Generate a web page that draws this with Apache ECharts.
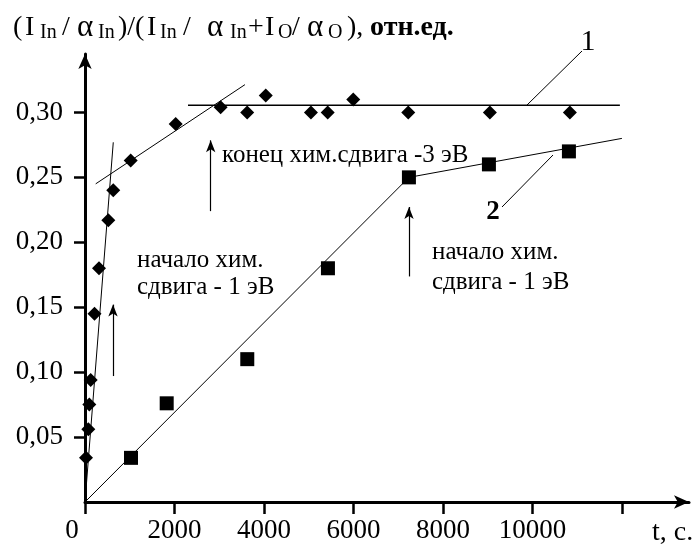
<!DOCTYPE html>
<html><head><meta charset="utf-8">
<script src="https://cdn.jsdelivr.net/npm/echarts@6.0.0/dist/echarts.min.js"></script>
<style>html,body{margin:0;padding:0;background:#fff}#c{width:697px;height:544px}</style>
</head><body><div id="c"></div>
<script>
// Series 1 (diamonds)
const diamondT = [22, 74, 96, 127, 212, 313, 521, 632, 1021, 2027, 3032, 3625, 4040, 5050, 5424, 5996, 7225, 9050, 10838];
const diamondV = [0.034, 0.056, 0.075, 0.094, 0.145, 0.180, 0.217, 0.240, 0.263, 0.291, 0.304, 0.300, 0.313, 0.300, 0.300, 0.310, 0.300, 0.300, 0.300];
// Series 2 (squares)
const squareT = [1028, 1826, 3627, 5430, 7240, 9028, 10816];
const squareV = [0.034, 0.076, 0.110, 0.180, 0.250, 0.260, 0.270];
// Fitted lines
const fit1Steep = [[0, 0], [632, 0.277]];
const fit1Slope = [[239, 0.245], [3575, 0.3214]];
const fit1Flat = [[2302, 0.3056], [11955, 0.3056]];
const fit2Rise = [[0, 0], [7240, 0.25]];
const fit2Tail = [[7240, 0.25], [12000, 0.28]];
// Arrows (t, from, to)
const arrows = [[626, 0.097, 0.152], [2810, 0.224, 0.2785], [7242, 0.1737, 0.2272]];
// Ticks
const xTicks = [0, 2000, 4000, 6000, 8000, 10000, 12000];
const xTickLabels = ['0', '2000', '4000', '6000', '8000', '10000', ''];
const yTicks = [0.05, 0.10, 0.15, 0.20, 0.25, 0.30];
const yTickLabels = ['0,05', '0,10', '0,15', '0,20', '0,25', '0,30'];
// Y-axis title pieces: [text, kind, slot width]
const titleParts = [
  ['(', 'm', 12], ['I', 'm', 15], ['In', 's', 22], ['/', 'm', 15], ['α', 'g', 21], ['In', 's', 20],
  [')/(', 'm', 29], ['I', 'm', 13], ['In', 's', 23], ['/', 'm', 24], ['α', 'g', 23], ['In', 's', 18],
  ['+', 'm', 17], ['I', 'm', 13], ['O', 's', 14], ['/', 'm', 15], ['α', 'g', 21], ['O', 's', 19],
  ['),', 'm', 23], ['отн.ед.', 'b', 90]
];

const FONT = '"Liberation Serif", "DejaVu Serif", serif';
const chart = echarts.init(document.getElementById('c'), null, {renderer: 'canvas'});

const kindStyle = {
  m: {fontSize: 28},
  s: {fontSize: 20, verticalAlign: 'bottom', padding: [10, 0, 0, 0]},
  g: {fontSize: 31},
  b: {fontSize: 28, fontWeight: 'bold'}
};
const titleRich = {};
let titleText = '';
titleParts.forEach(function (p, i) {
  const k = 'p' + i;
  titleRich[k] = Object.assign({fontFamily: FONT, fill: '#000', width: p[2], align: 'left'}, kindStyle[p[1]]);
  titleText += '{' + k + '|' + p[0] + '}';
});

function lineSeries(d, w) {
  return {type: 'line', data: d, symbol: 'none', silent: true, z: 2,
    lineStyle: {color: '#000', width: w || 1}};
}

const option = {
  animation: false,
  backgroundColor: '#fff',
  grid: {left: 85, right: 8, top: 54, bottom: 39, containLabel: false},
  xAxis: {
    type: 'value', min: 0, max: 13500, interval: 2000,
    splitLine: {show: false},
    axisLine: {show: true, lineStyle: {color: '#000', width: 3}, symbol: ['none', 'arrow'], symbolSize: [10, 15]},
    axisTick: {show: true, length: 12, lineStyle: {color: '#000', width: 2.5}, customValues: xTicks},
    axisLabel: {
      customValues: xTicks, margin: 15, color: '#000', fontFamily: FONT, fontSize: 27,
      formatter: function (v) {
        const i = xTicks.indexOf(v);
        const s = i >= 0 ? xTickLabels[i] : '';
        return v === 0 ? '{z|' + s + '}' : s;
      },
      rich: {z: {fontFamily: FONT, fontSize: 27, color: '#000', padding: [0, 26, 0, 0]}}
    }
  },
  yAxis: {
    type: 'value', min: 0, max: 0.345, interval: 0.05,
    splitLine: {show: false},
    axisLine: {show: true, lineStyle: {color: '#000', width: 3}, symbol: ['none', 'arrow'], symbolSize: [10, 15]},
    axisTick: {show: true, length: 11, lineStyle: {color: '#000', width: 2.5}, customValues: yTicks},
    axisLabel: {
      customValues: yTicks, margin: 22, color: '#000', fontFamily: FONT, fontSize: 27,
      formatter: function (v) {
        for (let i = 0; i < yTicks.length; i++) if (Math.abs(yTicks[i] - v) < 1e-6) return yTickLabels[i];
        return '';
      }
    }
  },
  series: [
    lineSeries(fit1Steep, 1),
    lineSeries(fit1Slope, 1),
    lineSeries(fit1Flat, 1.5),
    lineSeries(fit2Rise, 1),
    Object.assign(lineSeries(fit2Tail, 1), {
      markLine: {
        silent: true, symbol: ['none', 'arrow'], symbolSize: [7, 12],
        label: {show: false},
        lineStyle: {color: '#000', width: 1.2, type: 'solid'},
        data: arrows.map(a => [{coord: [a[0], a[1]]}, {coord: [a[0], a[2]]}])
      }
    }),
    {type: 'scatter', symbol: 'diamond', symbolSize: [14, 14], z: 5,
      itemStyle: {color: '#000', opacity: 1},
      data: diamondT.map((t, i) => [t, diamondV[i]])},
    {type: 'scatter', symbol: 'rect', symbolSize: [14, 14], z: 5,
      itemStyle: {color: '#000', opacity: 1},
      data: squareT.map((t, i) => [t, squareV[i]])}
  ],
  graphic: [
    {type: 'text', left: 13, top: 12, z: 10, style: {
      text: titleText, font: '28px ' + FONT, fill: '#000', rich: titleRich}},
    {type: 'text', x: 652, y: 533, style: {text: 't, c.', font: '28px ' + FONT, fill: '#000', textVerticalAlign: 'middle'}},
    {type: 'text', x: 137, y: 260, style: {text: 'начало хим.', font: '25px ' + FONT, fill: '#000', textVerticalAlign: 'middle'}},
    {type: 'text', x: 137, y: 287, style: {text: 'сдвига - 1 эВ', font: '25px ' + FONT, fill: '#000', textVerticalAlign: 'middle'}},
    {type: 'text', x: 222, y: 155, style: {text: 'конец хим.сдвига -3 эВ', font: '25px ' + FONT, fill: '#000', textVerticalAlign: 'middle'}},
    {type: 'text', x: 432, y: 252, style: {text: 'начало хим.', font: '25px ' + FONT, fill: '#000', textVerticalAlign: 'middle'}},
    {type: 'text', x: 432, y: 282, style: {text: 'сдвига - 1 эВ', font: '25px ' + FONT, fill: '#000', textVerticalAlign: 'middle'}},
    {type: 'text', x: 588, y: 42, style: {text: '1', font: '30px ' + FONT, fill: '#000', textAlign: 'center', textVerticalAlign: 'middle'}},
    {type: 'text', x: 493, y: 212, style: {text: '2', font: 'bold 27px ' + FONT, fill: '#000', textAlign: 'center', textVerticalAlign: 'middle'}},
    {type: 'line', shape: {x1: 527, y1: 105, x2: 582, y2: 51}, style: {stroke: '#000', lineWidth: 1}},
    {type: 'line', shape: {x1: 502, y1: 207, x2: 553, y2: 155}, style: {stroke: '#000', lineWidth: 1}}
  ]
};
chart.setOption(option);
</script></body></html>
